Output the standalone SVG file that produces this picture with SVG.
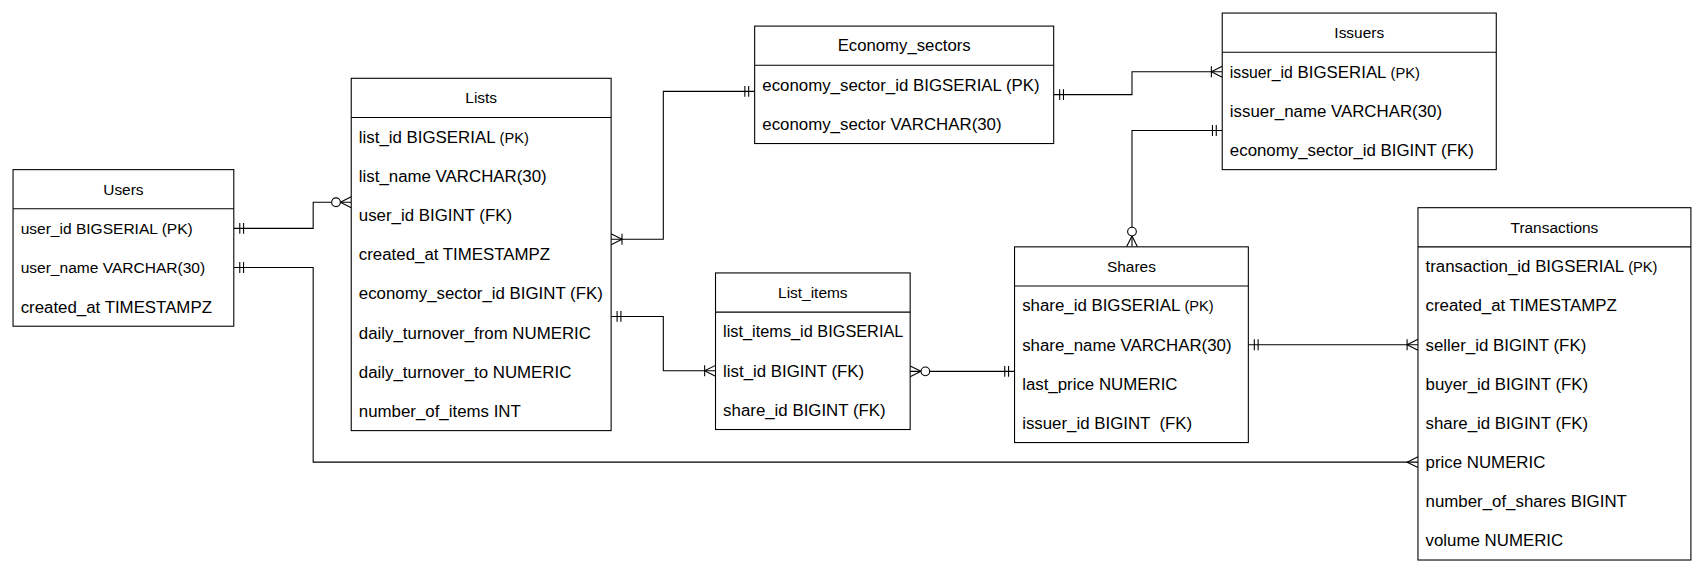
<svg xmlns="http://www.w3.org/2000/svg" width="1705" height="574" viewBox="0 0 1705 574">
<style>
.box{fill:#fff;stroke:#000;stroke-width:1}
.sep{stroke:#000;stroke-width:1}
text{font-family:"Liberation Sans",Arial,Helvetica,sans-serif;font-size:15.5px;fill:#000}
.h{text-anchor:middle;font-size:14.2px}
.s{font-size:13.5px}
.c{fill:none;stroke:#000;stroke-width:1}
.m{fill:none;stroke:#000;stroke-width:1}
</style>
<defs>
<marker id="mOne" markerUnits="userSpaceOnUse" viewBox="-20 -8 22 16" refX="0" refY="0" markerWidth="22" markerHeight="16" orient="auto-start-reverse" overflow="visible"><path class="m" d="M-5.5,-5V5M-9,-5V5"/></marker>
<marker id="mMany" markerUnits="userSpaceOnUse" viewBox="-20 -8 22 16" refX="0" refY="0" markerWidth="22" markerHeight="16" orient="auto-start-reverse" overflow="visible"><path class="m" d="M0,-5L-10,0L0,5"/></marker>
<marker id="mOneMany" markerUnits="userSpaceOnUse" viewBox="-20 -8 22 16" refX="0" refY="0" markerWidth="22" markerHeight="16" orient="auto-start-reverse" overflow="visible"><path class="m" d="M0,-5L-10,0L0,5M-10,-5V5"/></marker>
<marker id="mZeroMany" markerUnits="userSpaceOnUse" viewBox="-20 -8 22 16" refX="0" refY="0" markerWidth="22" markerHeight="16" orient="auto-start-reverse" overflow="visible"><path class="m" d="M0,-5L-10,0L0,5"/><circle cx="-14" cy="0" r="4" fill="#fff" stroke="#000" stroke-width="1"/></marker>
</defs>
<rect width="1705" height="574" fill="#fff"/>
<g transform="scale(1.0874)">
<g id="connectors">
<path class="c" d="M215,210H288V186H323" marker-start="url(#mOne)" marker-end="url(#mZeroMany)"/>
<path class="c" d="M215,246H288V425H1304" marker-start="url(#mOne)" marker-end="url(#mMany)"/>
<path class="c" d="M562,220H610V84H694" marker-start="url(#mOneMany)" marker-end="url(#mOne)"/>
<path class="c" d="M562,291H610V341H658" marker-start="url(#mOne)" marker-end="url(#mOneMany)"/>
<path class="c" d="M969,87H1041V66H1124" marker-start="url(#mOne)" marker-end="url(#mOneMany)"/>
<path class="c" d="M1124,120H1041V227" marker-start="url(#mOne)" marker-end="url(#mZeroMany)"/>
<path class="c" d="M837,341.5H933" marker-start="url(#mZeroMany)" marker-end="url(#mOne)"/>
<path class="c" d="M1148,317H1304" marker-start="url(#mOne)" marker-end="url(#mOneMany)"/>
</g>
<g id="users">
<rect class="box" x="12" y="156" width="203" height="144"/>
<line class="sep" x1="12" y1="192" x2="215" y2="192"/>
<text class="h" x="113.5" y="179">Users</text>
<text x="19" y="215" style="font-size:14.3px">user_id BIGSERIAL (PK)</text>
<text x="19" y="251" style="font-size:14.3px">user_name VARCHAR(30)</text>
<text x="19" y="287.4">created_at TIMESTAMPZ</text>
</g>
<g id="lists">
<rect class="box" x="323" y="72" width="239" height="324"/>
<line class="sep" x1="323" y1="108" x2="562" y2="108"/>
<text class="h" x="442.5" y="95">Lists</text>
<text x="330" y="131.4">list_id BIGSERIAL <tspan class="s">(PK)</tspan></text>
<text x="330" y="167.4">list_name VARCHAR(30)</text>
<text x="330" y="203.4">user_id BIGINT (FK)</text>
<text x="330" y="239.4">created_at TIMESTAMPZ</text>
<text x="330" y="275.4">economy_sector_id BIGINT (FK)</text>
<text x="330" y="311.4">daily_turnover_from NUMERIC</text>
<text x="330" y="347.4">daily_turnover_to NUMERIC</text>
<text x="330" y="383.4">number_of_items INT</text>
</g>
<g id="economy_sectors">
<rect class="box" x="694" y="24" width="275" height="108"/>
<line class="sep" x1="694" y1="60" x2="969" y2="60"/>
<text class="h" x="831.5" y="47.3" style="font-size:15.4px">Economy_sectors</text>
<text x="701" y="83.4">economy_sector_id BIGSERIAL (PK)</text>
<text x="701" y="119.4">economy_sector VARCHAR(30)</text>
</g>
<g id="issuers">
<rect class="box" x="1124" y="12" width="252" height="144"/>
<line class="sep" x1="1124" y1="48" x2="1376" y2="48"/>
<text class="h" x="1250" y="35">Issuers</text>
<text x="1131" y="71.4"><tspan style="font-size:14.5px">issuer_id</tspan> BIGSERIAL <tspan class="s">(PK)</tspan></text>
<text x="1131" y="107.4">issuer_name VARCHAR(30)</text>
<text x="1131" y="143.4">economy_sector_id BIGINT (FK)</text>
</g>
<g id="list_items">
<rect class="box" x="658" y="251" width="179" height="144"/>
<line class="sep" x1="658" y1="287" x2="837" y2="287"/>
<text class="h" x="747.5" y="274">List_items</text>
<text x="665" y="310.2" style="font-size:15px">list_items_id BIGSERIAL</text>
<text x="665" y="346.4">list_id BIGINT (FK)</text>
<text x="665" y="382.4">share_id BIGINT (FK)</text>
</g>
<g id="shares">
<rect class="box" x="933" y="227" width="215" height="180"/>
<line class="sep" x1="933" y1="263" x2="1148" y2="263"/>
<text class="h" x="1040.5" y="250">Shares</text>
<text x="940" y="286.4">share_id BIGSERIAL <tspan class="s">(PK)</tspan></text>
<text x="940" y="322.4">share_name VARCHAR(30)</text>
<text x="940" y="358.4">last_price NUMERIC</text>
<text x="940" y="394.4" style="white-space:pre">issuer_id BIGINT  (FK)</text>
</g>
<g id="transactions">
<rect class="box" x="1304" y="191" width="251" height="324"/>
<line class="sep" x1="1304" y1="227" x2="1555" y2="227"/>
<text class="h" x="1429.5" y="214">Transactions</text>
<text x="1311" y="250.4">transaction_id BIGSERIAL <tspan class="s">(PK)</tspan></text>
<text x="1311" y="286.4">created_at TIMESTAMPZ</text>
<text x="1311" y="322.4">seller_id BIGINT (FK)</text>
<text x="1311" y="358.4">buyer_id BIGINT (FK)</text>
<text x="1311" y="394.4">share_id BIGINT (FK)</text>
<text x="1311" y="430.4">price NUMERIC</text>
<text x="1311" y="466.4">number_of_shares BIGINT</text>
<text x="1311" y="502.4">volume NUMERIC</text>
</g>
</g>
</svg>
